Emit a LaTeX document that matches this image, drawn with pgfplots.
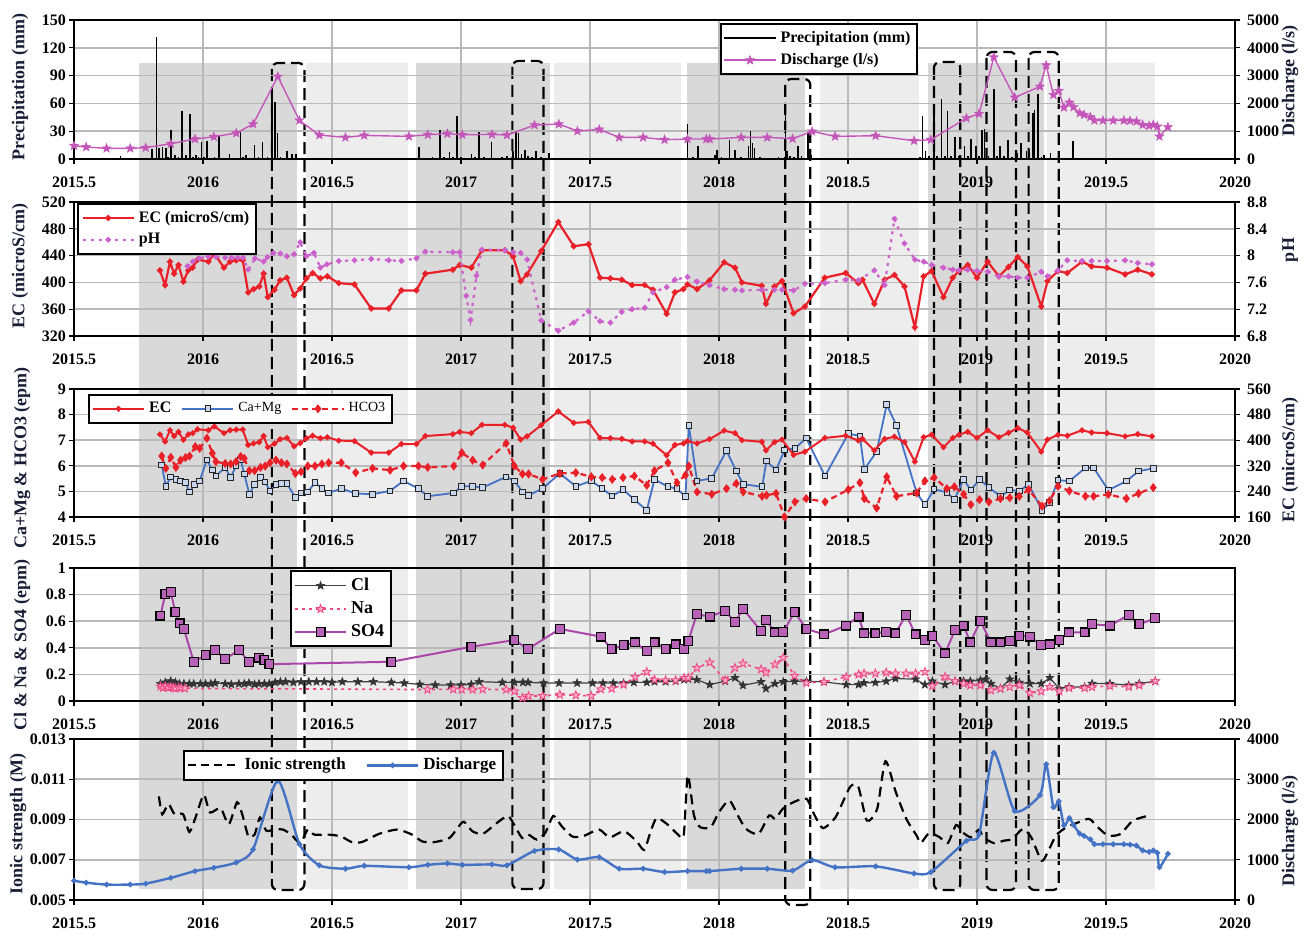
\documentclass[border=0pt]{standalone}
\usepackage{fontspec}
\setmainfont{Liberation Serif}
\usepackage{pgfplots}
\pgfplotsset{compat=1.18}
\usepackage{pgfplotstable}
\usetikzlibrary{plotmarks}

\definecolor{dband}{RGB}{217,217,217}
\definecolor{lband}{RGB}{237,237,238}
\definecolor{disch}{RGB}{196,86,186}
\definecolor{ecred}{RGB}{234,32,40}
\definecolor{phmag}{RGB}{204,96,204}
\definecolor{cablue}{RGB}{68,114,196}
\definecolor{sofour}{RGB}{170,70,170}
\definecolor{napink}{RGB}{240,70,130}
\definecolor{labc}{RGB}{25,30,55}
\definecolor{gridc}{RGB}{185,185,185}

\pgfdeclareplotmark{fstar}{%
 \pgfpathmoveto{\pgfpointpolar{90}{\pgfplotmarksize}}%
 \pgfpathlineto{\pgfpointpolar{126}{0.42\pgfplotmarksize}}%
 \pgfpathlineto{\pgfpointpolar{162}{\pgfplotmarksize}}%
 \pgfpathlineto{\pgfpointpolar{198}{0.42\pgfplotmarksize}}%
 \pgfpathlineto{\pgfpointpolar{234}{\pgfplotmarksize}}%
 \pgfpathlineto{\pgfpointpolar{270}{0.42\pgfplotmarksize}}%
 \pgfpathlineto{\pgfpointpolar{306}{\pgfplotmarksize}}%
 \pgfpathlineto{\pgfpointpolar{342}{0.42\pgfplotmarksize}}%
 \pgfpathlineto{\pgfpointpolar{18}{\pgfplotmarksize}}%
 \pgfpathlineto{\pgfpointpolar{54}{0.42\pgfplotmarksize}}%
 \pgfpathclose
 \pgfusepathqfillstroke}

\pgfplotsset{
  base/.style={
    scale only axis, width=580.5pt, xmin=2015.5, xmax=2020,
    xtick={2015.5,2016,2016.5,2017,2017.5,2018,2018.5,2019,2019.5,2020},
    xticklabels={2015.5,2016,2016.5,2017,2017.5,2018,2018.5,2019,2019.5,2020},
    axis line style={line width=1.1pt, black},
    tick label style={font=\bfseries\fontsize{8}{9}\selectfont},
    /pgf/number format/assume math mode=true,
    /pgf/number format/1000 sep={},
    scaled y ticks=false,
    tick style={black, line width=0.6pt},
    major tick length=2.5pt,
    tick align=outside,
  },
  leftax/.style={base, grid=major, major grid style={gridc, line width=0.8pt}, tick pos=left,
     xticklabel style={yshift=-3pt}, yticklabel style={xshift=2pt}},
  rightax/.style={base, axis y line*=right, axis x line=none, ytick pos=right},
  leg/.style={draw=black, line width=1pt, fill=white, inner sep=1.5pt},
  longleg/.style={legend image code/.code={\draw[mark repeat=2,mark phase=2] plot coordinates {(0cm,0cm) (0.45cm,0cm) (0.9cm,0cm)};}},
}

\pgfplotstableread{
x y
2015.500 478
2015.547 431
2015.626 383
2015.718 383
2015.778 407
2015.875 550
2015.969 718
2016.042 801
2016.129 933
2016.194 1256
2016.290 2966
2016.374 1387
2016.451 861
2016.552 777
2016.625 849
2016.798 813
2016.871 873
2016.947 909
2017.005 873
2017.120 885
2017.178 861
2017.285 1220
2017.379 1256
2017.451 1005
2017.536 1064
2017.613 777
2017.706 777
2017.789 694
2017.878 718
2017.951 718
2017.964 718
2018.086 777
2018.187 777
2018.285 730
2018.361 993
2018.450 813
2018.607 837
2018.756 658
2018.821 694
2018.959 1471
2019.008 1627
2019.065 3660
2019.146 2213
2019.244 2607
2019.268 3373
2019.296 2308
2019.317 2452
2019.337 1854
2019.358 2033
2019.374 1866
2019.398 1650
2019.415 1591
2019.439 1507
2019.455 1387
2019.488 1387
2019.528 1387
2019.569 1387
2019.593 1375
2019.618 1351
2019.642 1232
2019.667 1196
2019.683 1232
2019.699 1172
2019.707 813
2019.740 1148
}\dischtab

\pgfplotstableread{
x y
2015.833 418
2015.853 396
2015.872 431
2015.888 413
2015.905 426
2015.924 401
2015.943 418
2015.960 422
2015.979 434
2016.021 431
2016.044 443
2016.081 422
2016.105 431
2016.129 433
2016.154 433
2016.175 385
2016.196 390
2016.218 394
2016.235 413
2016.251 378
2016.277 389
2016.299 403
2016.325 407
2016.353 381
2016.377 391
2016.401 406
2016.425 414
2016.455 406
2016.482 409
2016.526 399
2016.587 397
2016.652 361
2016.720 361
2016.769 388
2016.827 388
2016.862 413
2016.968 419
2016.995 426
2017.040 422
2017.081 448
2017.170 448
2017.202 439
2017.231 402
2017.256 412
2017.311 447
2017.377 490
2017.437 454
2017.494 457
2017.539 407
2017.579 406
2017.623 404
2017.663 396
2017.712 396
2017.744 389
2017.797 353
2017.829 385
2017.862 390
2017.878 397
2017.915 390
2017.963 403
2018.020 430
2018.062 422
2018.089 400
2018.166 395
2018.182 368
2018.215 394
2018.244 402
2018.289 354
2018.333 364
2018.410 407
2018.491 414
2018.540 399
2018.556 404
2018.602 368
2018.642 404
2018.680 411
2018.719 394
2018.759 333
2018.793 409
2018.824 417
2018.870 378
2018.906 407
2018.930 417
2018.964 426
2019.000 407
2019.041 431
2019.085 409
2019.122 423
2019.158 438
2019.195 424
2019.249 364
2019.273 402
2019.314 417
2019.350 414
2019.407 431
2019.444 424
2019.504 422
2019.574 412
2019.623 419
2019.678 412
}\ectab

\pgfplotstableread{
x y
2015.681 2.9
2015.790 1.5
2015.803 10.8
2015.819 131.4
2015.830 11.8
2015.843 12.9
2015.856 11.8
2015.865 2
2015.875 31.6
2015.892 4.7
2015.905 2
2015.919 52.0
2015.935 3.9
2015.950 48.8
2015.962 2
2015.972 3.9
2015.983 2
2015.994 17.9
2016.005 2
2016.016 19.7
2016.030 1.5
2016.045 2
2016.061 24.4
2016.080 1.5
2016.102 5.4
2016.120 1.5
2016.146 28.7
2016.155 2
2016.167 3.9
2016.185 1.5
2016.199 15.1
2016.215 2
2016.231 17.9
2016.250 2
2016.267 77.5
2016.278 61.4
2016.288 28.0
2016.300 2
2016.325 8.3
2016.345 5.7
2016.361 5.7
2016.838 12.6
2016.860 1.5
2016.890 2
2016.919 30.9
2016.935 2
2016.956 7.2
2016.970 2
2016.984 46.7
2017.000 2
2017.020 1.5
2017.040 5.4
2017.055 2
2017.070 29.4
2017.090 2
2017.118 17.9
2017.140 1.5
2017.160 2
2017.178 2.9
2017.202 8.3
2017.214 28.7
2017.223 28.0
2017.235 5.7
2017.247 10.0
2017.260 3
2017.275 2
2017.291 8.3
2017.310 2
2017.340 6.5
2017.878 38.0
2017.900 2
2017.919 14.4
2017.950 1.5
2017.984 4.7
2017.992 9.3
2018.010 2
2018.041 20.1
2018.062 10.0
2018.085 2
2018.114 13.6
2018.122 30.5
2018.130 17.2
2018.138 11.8
2018.160 2
2018.200 1.5
2018.230 2
2018.257 59.6
2018.263 8.3
2018.275 3
2018.290 2
2018.306 14.4
2018.320 3
2018.345 28.7
2018.358 4.7
2018.780 2
2018.789 46.7
2018.800 8.3
2018.815 3
2018.833 53.1
2018.845 3
2018.862 64.6
2018.875 3
2018.886 52.0
2018.900 3
2018.914 23.7
2018.930 3
2018.951 14.4
2018.965 3
2018.976 21.5
2018.995 13.6
2019.008 3
2019.020 30.9
2019.029 32.3
2019.045 3
2019.065 75.4
2019.077 3
2019.089 13.6
2019.105 3
2019.119 20.8
2019.135 2
2019.154 6.5
2019.171 17.2
2019.192 8.3
2019.203 10.0
2019.216 49.5
2019.223 53.1
2019.236 70.3
2019.250 2
2019.260 4.7
2019.285 6.5
2019.371 19.0
}\preciptab

\begin{document}
\begin{tikzpicture}
\useasboundingbox (0,0) rectangle (652pt,-465pt);

% ---------- background bands and event boxes ----------
\begin{axis}[scale only axis, width=580.5pt, height=465pt, at={(37pt,-465pt)}, anchor=south west,
  xmin=2015.5, xmax=2020, ymin=-930, ymax=0, hide axis, clip=false]
\fill[dband] (axis cs:2015.75,-63) rectangle (axis cs:2016.366,-889);
\fill[lband] (axis cs:2016.398,-63) rectangle (axis cs:2016.794,-889);
\fill[dband] (axis cs:2016.825,-63) rectangle (axis cs:2017.345,-889);
\fill[lband] (axis cs:2017.361,-63) rectangle (axis cs:2017.854,-889);
\fill[dband] (axis cs:2017.875,-63) rectangle (axis cs:2018.335,-889);
\fill[lband] (axis cs:2018.39,-63) rectangle (axis cs:2018.776,-889);
\fill[dband] (axis cs:2018.81,-63) rectangle (axis cs:2019.26,-889);
\fill[lband] (axis cs:2019.27,-63) rectangle (axis cs:2019.69,-889);
\begin{scope}[black, line width=1.1pt, dash pattern=on 6pt off 3pt, rounded corners=3pt]
\draw (axis cs:2016.267,-63) rectangle (axis cs:2016.393,-890);
\draw (axis cs:2017.199,-61) rectangle (axis cs:2017.320,-889);
\draw (axis cs:2018.257,-79) rectangle (axis cs:2018.354,-905);
\draw (axis cs:2018.833,-62) rectangle (axis cs:2018.935,-890);
\draw (axis cs:2019.037,-52) rectangle (axis cs:2019.151,-890);
\draw (axis cs:2019.200,-52) rectangle (axis cs:2019.317,-890);
\end{scope}
\end{axis}

% ---------- Panel 1 ----------
\begin{axis}[leftax, at={(37pt,-79.5pt)}, anchor=south west, height=69.5pt,
  ymin=0, ymax=150, ytick={0,30,60,90,120,150}]
\addplot[ycomb, black, line width=0.8pt] table {\preciptab};
\end{axis}
\begin{axis}[rightax, at={(37pt,-79.5pt)}, anchor=south west, height=69.5pt,
  ymin=0, ymax=5000, ytick={0,1000,2000,3000,4000,5000}, longleg,
  legend cell align=left,
  legend style={leg, at={(0.556,0.978)}, anchor=north west, font=\bfseries\fontsize{8}{9}\selectfont}]
\addlegendimage{black, line width=0.9pt}
\addlegendentry{Precipitation (mm)}
\addplot[disch, line width=0.7pt, mark=fstar, mark size=2.3pt, mark options={fill=disch, draw=disch, line width=0.3pt}] table {\dischtab};
\addlegendentry{Discharge (l/s)}
\end{axis}

% ---------- Panel 2 ----------
\begin{axis}[leftax, at={(37pt,-168pt)}, anchor=south west, height=67pt,
  ymin=320, ymax=520, ytick={320,360,400,440,480,520}]
\addplot[ecred, line width=1.1pt, mark=*, mark size=0.9pt] table {\ectab};
\end{axis}
\begin{axis}[rightax, at={(37pt,-168pt)}, anchor=south west, height=67pt,
  ymin=6.8, ymax=8.8, ytick={6.8,7.2,7.6,8,8.4,8.8}, longleg,
  legend cell align=left,
  legend style={leg, at={(0.003,0.993)}, anchor=north west, font=\bfseries\fontsize{8}{9}\selectfont}]
\addlegendimage{ecred, line width=1.1pt, mark=*, mark size=0.9pt}
\addlegendentry{EC (microS/cm)}
\addplot[phmag, line width=1.1pt, dash pattern=on 1.5pt off 2.5pt, mark=*, mark size=0.8pt, mark options={solid}] coordinates {
(2015.940,7.84) (2015.960,7.91) (2015.985,7.96) (2016.020,7.99) (2016.050,7.98) (2016.086,7.97)
(2016.110,7.97) (2016.134,7.97) (2016.155,7.97) (2016.175,7.79) (2016.202,7.96) (2016.235,7.91)
(2016.250,7.98) (2016.273,8.04) (2016.300,8.03) (2016.325,7.99) (2016.353,8.02) (2016.377,8.20)
(2016.400,7.99) (2016.430,8.04) (2016.455,7.82) (2016.480,7.87) (2016.526,7.92) (2016.587,7.93)
(2016.652,7.95) (2016.720,7.93) (2016.769,7.92) (2016.827,7.96) (2016.862,8.06) (2016.968,8.05)
(2016.995,8.05) (2017.020,7.40) (2017.037,7.04) (2017.060,7.70) (2017.081,8.09) (2017.170,8.08)
(2017.202,8.05) (2017.231,8.04) (2017.256,7.94) (2017.311,7.03) (2017.377,6.88) (2017.437,7.00)
(2017.494,7.17) (2017.539,7.02) (2017.579,7.00) (2017.623,7.16) (2017.663,7.20) (2017.712,7.22)
(2017.744,7.45) (2017.797,7.53) (2017.829,7.64) (2017.878,7.68) (2017.915,7.61) (2017.963,7.56)
(2018.020,7.50) (2018.062,7.49) (2018.089,7.48) (2018.166,7.49) (2018.215,7.49) (2018.244,7.49)
(2018.289,7.48) (2018.333,7.58) (2018.410,7.59) (2018.491,7.64) (2018.540,7.63) (2018.602,7.78)
(2018.642,7.56) (2018.680,8.55) (2018.719,8.18) (2018.759,7.94) (2018.793,7.91) (2018.824,7.86)
(2018.870,7.82) (2018.906,7.79) (2018.930,7.78) (2018.964,7.79) (2019.000,7.77) (2019.041,7.76)
(2019.085,7.69) (2019.122,7.69) (2019.158,7.67) (2019.195,7.67) (2019.249,7.76) (2019.273,7.69)
(2019.314,7.78) (2019.350,7.93) (2019.407,7.92) (2019.444,7.92) (2019.504,7.92) (2019.574,7.93)
(2019.623,7.89) (2019.678,7.87)};
\addlegendentry{pH}
\end{axis}

% ---------- Panel 3 ----------
\begin{axis}[leftax, at={(37pt,-258.5pt)}, anchor=south west, height=64pt,
  ymin=4, ymax=9, ytick={4,5,6,7,8,9}]
\addplot[cablue, line width=0.9pt, mark=square*, mark size=1.4pt, mark options={fill=cablue!30!white, draw=black!85, line width=0.5pt}] coordinates {
(2015.840,6.03) (2015.856,5.20) (2015.875,5.57) (2015.895,5.47) (2015.913,5.41) (2015.932,5.34)
(2015.948,4.98) (2015.968,5.28) (2015.987,5.41) (2016.015,6.23) (2016.036,5.83) (2016.050,5.60)
(2016.086,5.94) (2016.107,5.54) (2016.128,5.99) (2016.146,6.23) (2016.160,5.68) (2016.180,4.88)
(2016.200,5.28) (2016.223,5.54) (2016.241,5.37) (2016.260,5.01) (2016.283,5.28) (2016.304,5.31)
(2016.325,5.31) (2016.358,4.76) (2016.380,4.94) (2016.406,4.98) (2016.434,5.34) (2016.461,5.11)
(2016.487,4.94) (2016.536,5.11) (2016.592,4.92) (2016.657,4.89) (2016.725,5.02) (2016.777,5.41)
(2016.835,5.11) (2016.871,4.81) (2016.972,4.94) (2017.003,5.20) (2017.045,5.20) (2017.084,5.15)
(2017.175,5.57) (2017.207,5.41) (2017.238,4.98) (2017.262,4.85) (2017.316,5.11) (2017.383,5.70)
(2017.445,5.20) (2017.505,5.41) (2017.547,5.11) (2017.586,4.82) (2017.628,5.07) (2017.672,4.68)
(2017.720,4.26) (2017.750,5.47) (2017.802,5.18) (2017.837,5.11) (2017.870,4.79) (2017.883,7.57)
(2017.915,5.41) (2017.972,5.51) (2018.029,6.59) (2018.067,5.79) (2018.094,5.28) (2018.167,5.18)
(2018.184,6.19) (2018.221,5.83) (2018.254,6.62) (2018.294,6.68) (2018.338,7.08) (2018.411,5.60)
(2018.501,7.25) (2018.546,7.17) (2018.563,5.86) (2018.611,6.55) (2018.650,8.39) (2018.688,7.57)
(2018.766,4.94) (2018.798,4.48) (2018.834,5.09) (2018.883,4.96) (2018.912,4.68) (2018.948,5.47)
(2018.976,5.05) (2019.010,5.47) (2019.046,5.15) (2019.091,4.81) (2019.127,5.05) (2019.164,5.02)
(2019.200,5.27) (2019.252,4.26) (2019.281,4.56) (2019.314,5.44) (2019.358,5.40) (2019.420,5.92)
(2019.452,5.92) (2019.509,5.05) (2019.579,5.40) (2019.626,5.79) (2019.683,5.90)};
\addplot[ecred, line width=1.1pt, dash pattern=on 3pt off 2pt, mark=diamond*, mark size=1.4pt, mark options={solid, fill=ecred}] coordinates {
(2015.840,6.38) (2015.856,5.90) (2015.875,6.33) (2015.895,5.94) (2015.913,6.22) (2015.932,6.32)
(2015.948,6.38) (2015.970,6.75) (2015.987,6.68) (2016.015,7.08) (2016.036,6.49) (2016.050,6.16)
(2016.086,6.09) (2016.107,6.07) (2016.128,6.16) (2016.146,6.36) (2016.160,6.29) (2016.180,5.81)
(2016.200,5.81) (2016.223,5.94) (2016.241,5.99) (2016.260,6.12) (2016.283,6.22) (2016.304,6.12)
(2016.325,6.07) (2016.358,5.70) (2016.380,5.77) (2016.406,5.99) (2016.434,5.99) (2016.461,6.07)
(2016.487,6.12) (2016.536,6.12) (2016.592,5.73) (2016.657,5.90) (2016.725,5.83) (2016.777,5.99)
(2016.835,5.99) (2016.871,5.94) (2016.972,5.99) (2017.003,6.51) (2017.045,6.22) (2017.084,6.03)
(2017.175,6.88) (2017.207,5.99) (2017.238,5.68) (2017.262,5.68) (2017.316,5.47) (2017.383,5.70)
(2017.445,5.73) (2017.505,5.57) (2017.547,5.54) (2017.586,5.47) (2017.628,5.54) (2017.672,5.60)
(2017.720,5.24) (2017.750,5.81) (2017.802,6.12) (2017.837,5.34) (2017.870,5.64) (2017.883,5.99)
(2017.915,4.98) (2017.972,4.89) (2018.029,5.11) (2018.067,5.31) (2018.094,4.98) (2018.167,4.81)
(2018.184,4.85) (2018.221,4.92) (2018.254,4.00) (2018.294,4.59) (2018.338,4.72) (2018.411,4.59)
(2018.501,5.07) (2018.546,5.34) (2018.563,4.72) (2018.611,4.35) (2018.650,5.57) (2018.688,4.81)
(2018.766,4.94) (2018.798,5.41) (2018.834,5.54) (2018.883,5.11) (2018.912,5.18) (2018.948,4.89)
(2018.976,4.48) (2019.010,4.68) (2019.046,4.59) (2019.091,4.72) (2019.127,4.75) (2019.164,4.81)
(2019.200,5.07) (2019.252,4.42) (2019.281,4.63) (2019.314,5.20) (2019.358,5.02) (2019.420,4.81)
(2019.452,4.81) (2019.509,4.88) (2019.579,4.72) (2019.626,4.92) (2019.683,5.15)};
\end{axis}
\begin{axis}[rightax, at={(37pt,-258.5pt)}, anchor=south west, height=64pt,
  ymin=160, ymax=560, ytick={160,240,320,400,480,560}, longleg,
  legend columns=3, legend cell align=left,
  legend style={leg, at={(0.012,0.961)}, anchor=north west, font=\fontsize{7}{8}\selectfont,
    /tikz/every even column/.append style={column sep=3pt}}]
\addplot[ecred, line width=1pt, mark=*, mark size=0.9pt] table {\ectab};
\addlegendentry{\bfseries\fontsize{8}{9}\selectfont EC}
\addlegendimage{cablue, line width=0.9pt, mark=square*, mark size=1.4pt, mark options={fill=cablue!30!white, draw=black!85, line width=0.5pt}}
\addlegendentry{Ca+Mg}
\addlegendimage{ecred, line width=1.1pt, dash pattern=on 3pt off 2pt, mark=diamond*, mark size=1.4pt, mark options={solid, fill=ecred}}
\addlegendentry{HCO3}
\end{axis}

% ---------- Panel 4 ----------
\begin{axis}[leftax, at={(37pt,-350.5pt)}, anchor=south west, height=66.5pt,
  ymin=0, ymax=1, ytick={0,0.2,0.4,0.6,0.8,1}, longleg, legend cell align=left,
  legend style={leg, at={(0.186,0.985)}, anchor=north west, font=\bfseries\fontsize{9}{10}\selectfont}]
\addplot[black!75, line width=0.6pt, mark=fstar, mark size=2.1pt, mark options={fill=black!80, draw=black!80, line width=0.3pt}] coordinates {
(2015.835,0.13) (2015.854,0.14) (2015.875,0.15) (2015.893,0.14) (2015.909,0.13) (2015.926,0.13)
(2015.947,0.13) (2015.964,0.13) (2015.990,0.13) (2016.010,0.13) (2016.030,0.13) (2016.047,0.135)
(2016.086,0.13) (2016.110,0.125) (2016.139,0.13) (2016.160,0.13) (2016.178,0.135) (2016.200,0.125)
(2016.217,0.13) (2016.238,0.13) (2016.257,0.13) (2016.280,0.14) (2016.300,0.145) (2016.320,0.145)
(2016.350,0.14) (2016.380,0.145) (2016.410,0.145) (2016.440,0.145) (2016.470,0.145) (2016.500,0.14)
(2016.540,0.145) (2016.600,0.145) (2016.660,0.145) (2016.730,0.14) (2016.780,0.135) (2016.840,0.125)
(2016.900,0.12) (2016.960,0.12) (2017.000,0.12) (2017.040,0.125) (2017.070,0.145) (2017.160,0.14)
(2017.207,0.14) (2017.240,0.14) (2017.260,0.14) (2017.320,0.135) (2017.380,0.135) (2017.450,0.135)
(2017.510,0.135) (2017.550,0.135) (2017.590,0.135) (2017.630,0.135) (2017.670,0.14) (2017.720,0.14)
(2017.750,0.145) (2017.793,0.145) (2017.832,0.15) (2017.865,0.16) (2017.881,0.165) (2017.914,0.16)
(2017.964,0.123) (2018.024,0.149) (2018.062,0.174) (2018.093,0.118) (2018.163,0.144) (2018.182,0.093)
(2018.217,0.131) (2018.249,0.144) (2018.293,0.149) (2018.339,0.149) (2018.407,0.144) (2018.493,0.123)
(2018.541,0.123) (2018.562,0.136) (2018.606,0.139) (2018.648,0.149) (2018.684,0.169) (2018.762,0.164)
(2018.798,0.123) (2018.827,0.149) (2018.876,0.123) (2018.915,0.149) (2018.948,0.149) (2018.974,0.149)
(2019.013,0.156) (2019.034,0.164) (2019.054,0.131) (2019.091,0.093) (2019.127,0.164) (2019.164,0.139)
(2019.205,0.131) (2019.249,0.131) (2019.282,0.174) (2019.319,0.093) (2019.357,0.106) (2019.417,0.106)
(2019.446,0.131) (2019.515,0.131) (2019.588,0.118) (2019.629,0.131) (2019.691,0.149)};
\addlegendentry{Cl}
\addplot[napink, line width=0.8pt, dash pattern=on 1.5pt off 2pt, mark=fstar, mark size=2.2pt, mark options={solid, fill=napink!45!white, draw=napink, line width=0.4pt}] coordinates {
(2015.835,0.11) (2015.845,0.10) (2015.854,0.11) (2015.865,0.10) (2015.875,0.105) (2015.885,0.10)
(2015.893,0.095) (2015.905,0.10) (2015.915,0.10) (2015.930,0.095) (2016.870,0.086) (2016.970,0.088)
(2017.003,0.086) (2017.045,0.086) (2017.084,0.088) (2017.175,0.086) (2017.207,0.073) (2017.238,0.023)
(2017.262,0.038) (2017.316,0.038) (2017.383,0.048) (2017.445,0.043) (2017.505,0.038) (2017.542,0.088)
(2017.584,0.093) (2017.630,0.123) (2017.675,0.181) (2017.720,0.219) (2017.750,0.16) (2017.793,0.156)
(2017.832,0.156) (2017.865,0.174) (2017.881,0.174) (2017.914,0.249) (2017.964,0.29) (2018.024,0.156)
(2018.062,0.249) (2018.093,0.282) (2018.163,0.239) (2018.182,0.214) (2018.217,0.275) (2018.249,0.325)
(2018.293,0.189) (2018.339,0.136) (2018.407,0.144) (2018.493,0.181) (2018.541,0.199) (2018.562,0.207)
(2018.606,0.207) (2018.648,0.214) (2018.684,0.207) (2018.725,0.207) (2018.762,0.207) (2018.798,0.219)
(2018.827,0.113) (2018.876,0.181) (2018.915,0.149) (2018.948,0.131) (2018.974,0.118) (2019.013,0.118)
(2019.054,0.081) (2019.091,0.093) (2019.127,0.106) (2019.164,0.118) (2019.205,0.06) (2019.249,0.073)
(2019.282,0.106) (2019.319,0.073) (2019.357,0.098) (2019.417,0.098) (2019.446,0.106) (2019.515,0.113)
(2019.588,0.106) (2019.629,0.118) (2019.691,0.149)};
\addlegendentry{Na}
\addplot[sofour, line width=1pt, mark=square*, mark size=2.2pt, mark options={fill=sofour!85!white, draw=black, line width=0.6pt}] coordinates {
(2015.835,0.642) (2015.854,0.806) (2015.875,0.819) (2015.893,0.667) (2015.909,0.584) (2015.926,0.542)
(2015.964,0.295) (2016.010,0.345) (2016.047,0.383) (2016.086,0.315) (2016.139,0.383) (2016.178,0.295)
(2016.217,0.327) (2016.238,0.307) (2016.257,0.277) (2016.730,0.295) (2017.040,0.408) (2017.207,0.458)
(2017.259,0.390) (2017.383,0.542) (2017.542,0.484) (2017.584,0.390) (2017.630,0.420) (2017.675,0.440)
(2017.720,0.375) (2017.750,0.440) (2017.793,0.390) (2017.832,0.425) (2017.865,0.390) (2017.881,0.451)
(2017.914,0.652) (2017.964,0.635) (2018.024,0.678) (2018.062,0.592) (2018.093,0.693) (2018.163,0.526)
(2018.182,0.610) (2018.217,0.516) (2018.249,0.521) (2018.293,0.667) (2018.339,0.542) (2018.407,0.501)
(2018.493,0.567) (2018.541,0.635) (2018.562,0.509) (2018.606,0.509) (2018.648,0.521) (2018.684,0.509)
(2018.725,0.647) (2018.762,0.501) (2018.798,0.458) (2018.827,0.491) (2018.876,0.358) (2018.915,0.534)
(2018.948,0.567) (2018.974,0.441) (2019.013,0.602) (2019.054,0.441) (2019.091,0.441) (2019.127,0.451)
(2019.164,0.491) (2019.205,0.484) (2019.249,0.421) (2019.282,0.425) (2019.319,0.458) (2019.357,0.516)
(2019.417,0.516) (2019.446,0.577) (2019.515,0.567) (2019.588,0.647) (2019.629,0.577) (2019.691,0.622)};
\addlegendentry{SO4}
\end{axis}

% ---------- Panel 5 ----------
\begin{axis}[leftax, at={(37pt,-450pt)}, anchor=south west, height=80.5pt,
  ymin=0.005, ymax=0.013, ytick={0.005,0.007,0.009,0.011,0.013},
  yticklabel style={/pgf/number format/fixed, /pgf/number format/precision=3, /pgf/number format/fixed zerofill}]
\addplot[black, line width=1.1pt, dash pattern=on 5pt off 3pt, smooth, tension=0.4] coordinates {
(2015.829,0.01015) (2015.842,0.00926) (2015.866,0.00977) (2015.890,0.00926) (2015.923,0.00926)
(2015.947,0.00838) (2015.971,0.00910) (2016.003,0.01023) (2016.027,0.00935) (2016.068,0.00957)
(2016.100,0.00876) (2016.132,0.00986) (2016.152,0.00926) (2016.176,0.00816) (2016.200,0.00825)
(2016.221,0.00910) (2016.245,0.00845) (2016.277,0.00850) (2016.310,0.00850) (2016.342,0.00825)
(2016.377,0.00783) (2016.406,0.00850) (2016.431,0.00825) (2016.487,0.00825) (2016.535,0.00816)
(2016.576,0.00788) (2016.616,0.00788) (2016.681,0.00828) (2016.753,0.00850) (2016.810,0.00825)
(2016.850,0.00791) (2016.898,0.00788) (2016.955,0.00808) (2016.987,0.00859) (2017.011,0.00889)
(2017.044,0.00842) (2017.084,0.00828) (2017.132,0.00876) (2017.181,0.00918) (2017.205,0.00876)
(2017.237,0.00808) (2017.261,0.00825) (2017.294,0.00800) (2017.326,0.00833) (2017.358,0.00918)
(2017.390,0.00867) (2017.431,0.00816) (2017.471,0.00816) (2017.535,0.00850) (2017.576,0.00811)
(2017.632,0.00842) (2017.681,0.00791) (2017.710,0.00749) (2017.735,0.00840) (2017.758,0.00907)
(2017.798,0.00878) (2017.839,0.00828) (2017.863,0.00820) (2017.879,0.01120) (2017.903,0.00920)
(2017.927,0.00862) (2017.968,0.00862) (2018.000,0.00937) (2018.040,0.00995) (2018.073,0.00920)
(2018.105,0.00853) (2018.153,0.00828) (2018.194,0.00920) (2018.218,0.00903) (2018.247,0.00953)
(2018.290,0.00987) (2018.339,0.01003) (2018.371,0.00920) (2018.403,0.00857) (2018.452,0.00912)
(2018.508,0.01062) (2018.540,0.01062) (2018.573,0.00895) (2018.613,0.00953) (2018.645,0.01190)
(2018.685,0.01037) (2018.726,0.00903) (2018.766,0.00820) (2018.782,0.00783) (2018.815,0.00833)
(2018.855,0.00812) (2018.887,0.00783) (2018.919,0.00873) (2018.944,0.00837) (2018.976,0.00812)
(2019.008,0.00850) (2019.024,0.00812) (2019.065,0.00783) (2019.105,0.00795) (2019.137,0.00803)
(2019.177,0.00853) (2019.210,0.00812) (2019.250,0.00695) (2019.274,0.00737) (2019.306,0.00820)
(2019.347,0.00862) (2019.395,0.00887) (2019.435,0.00903) (2019.468,0.00862) (2019.508,0.00820)
(2019.556,0.00828) (2019.605,0.00895) (2019.677,0.00923)};
\end{axis}
\begin{axis}[rightax, at={(37pt,-450pt)}, anchor=south west, height=80.5pt,
  ymin=0, ymax=4000, ytick={0,1000,2000,3000,4000}, longleg,
  legend columns=2, legend cell align=left,
  legend style={leg, at={(0.094,0.932)}, anchor=north west, font=\bfseries\fontsize{8.5}{9.5}\selectfont,
    /tikz/every even column/.append style={column sep=8pt}}]
\addlegendimage{black, line width=1.1pt, dash pattern=on 4pt off 2.5pt}
\addlegendentry{Ionic strength}
\addplot[cablue, line width=1.2pt, smooth, tension=0.4, mark=*, mark size=0.7pt] table {\dischtab};
\addlegendentry{Discharge}
\end{axis}

% ---------- axis titles ----------
\begin{scope}[every node/.style={rotate=90, font=\bfseries\fontsize{9}{10}\selectfont, text=labc}]
\node at (10pt,-43.5pt) {Precipitation (mm)};
\node at (10pt,-133pt) {EC (microS/cm)};
\node at (11pt,-229pt) {Ca+Mg \& HCO3 (epm)};
\node at (11pt,-322.5pt) {Cl \& Na \& SO4 (epm)};
\node at (9pt,-412pt) {Ionic strength (M)};
\node at (645pt,-40.5pt) {Discharge (l/s)};
\node at (645pt,-125pt) {pH};
\node at (645pt,-230pt) {EC (microS/cm)};
\node at (645pt,-415.5pt) {Discharge (l/s)};
\end{scope}
\end{tikzpicture}
\end{document}
